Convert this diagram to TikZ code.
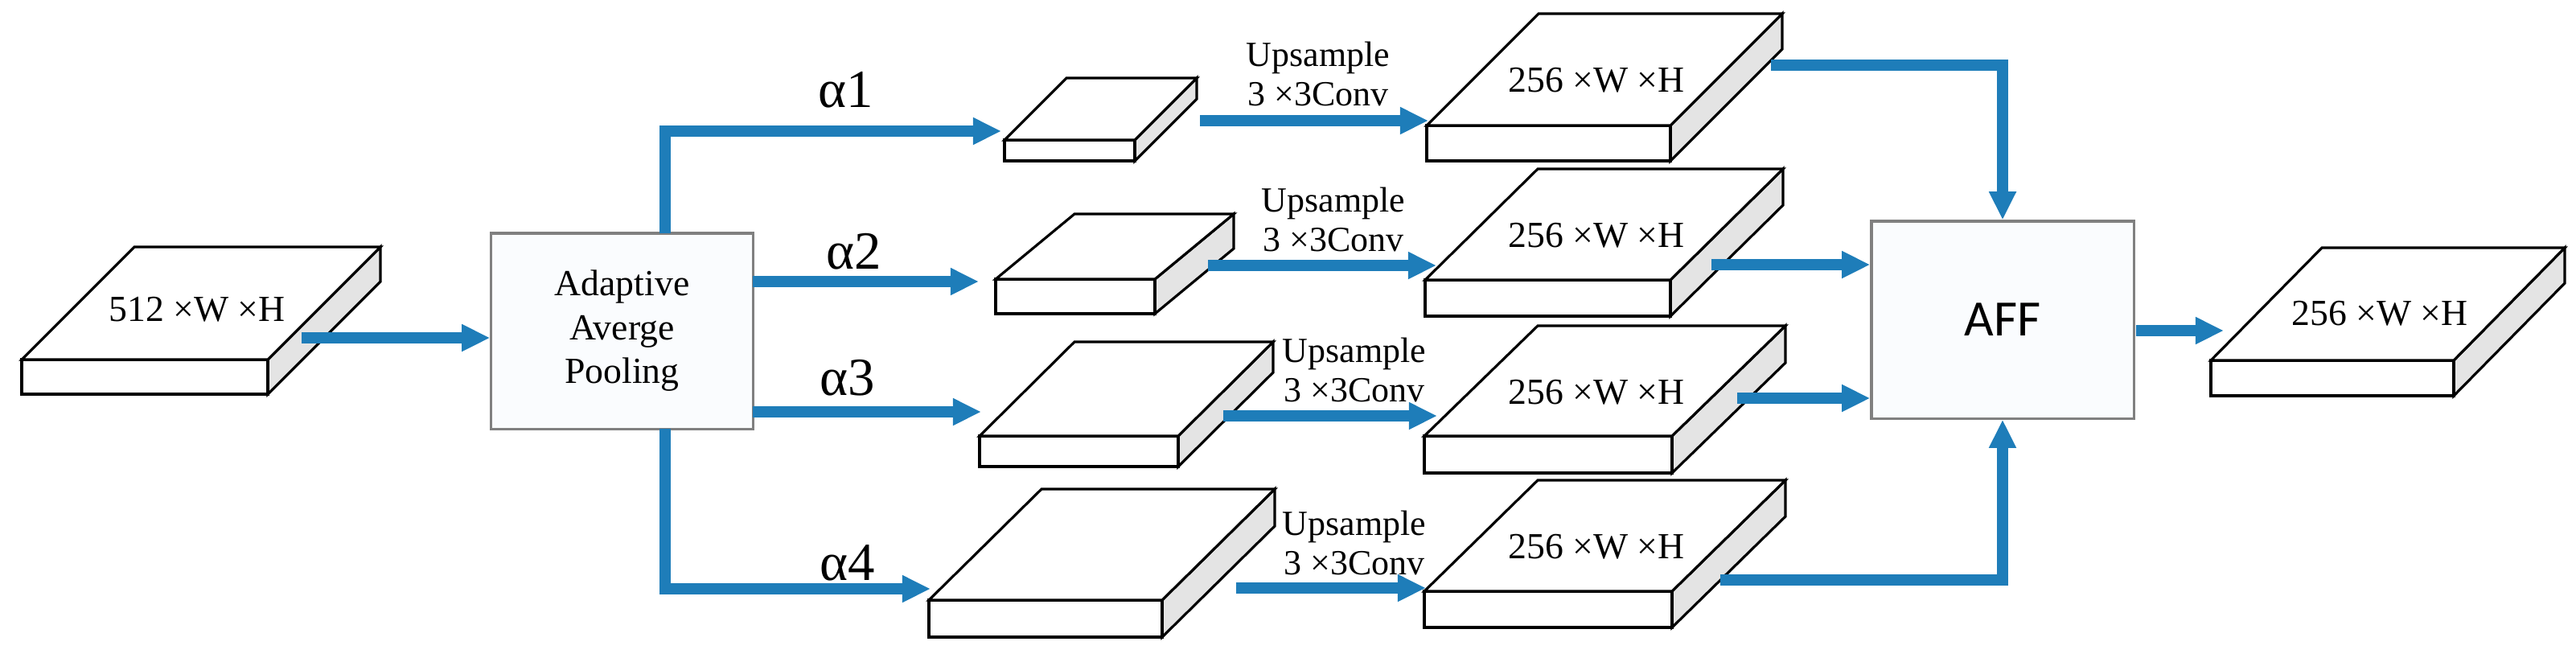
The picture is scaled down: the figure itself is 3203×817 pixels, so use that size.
\documentclass[tikz,border=0pt]{standalone}
\usepackage{fontspec}
\setmainfont{Liberation Serif}
\newfontfamily\afffont{Carlito}
\usetikzlibrary{arrows.meta}
\definecolor{arrblue}{RGB}{30,125,185}
\definecolor{sidegray}{RGB}{228,228,228}
\definecolor{boxfill}{RGB}{250,252,254}
\tikzset{
  arr/.style={draw=arrblue,line width=4pt,-{Triangle[length=10pt,width=9pt]}},
  slabface/.style={fill=white,draw=black,line width=0.9pt,line join=miter},
  slabside/.style={fill=sidegray,draw=black,line width=0.9pt},
  box/.style={draw=gray,line width=0.9pt,fill=boxfill,inner sep=0pt},
  lbl/.style={font=\fontsize{12.5}{14}\selectfont,align=center,inner sep=0pt},
  dimtxt/.style={font=\fontsize{13}{15}\selectfont,inner sep=0pt},
  alab/.style={font=\fontsize{19}{21}\selectfont,inner sep=0pt}
}
% #1 name, #2 front-left x, #3 front-right x, #4 back-left x, #5 top y, #6 front-top y, #7 bottom y
\newcommand\myslab[7]{%
  \pgfmathsetmacro\slbr{#4+#3-#2}%
  \pgfmathsetmacro\slrb{#5+#7-#6}%
  \filldraw[slabside] (#3,#6) -- (\slbr,#5) -- (\slbr,\slrb) -- (#3,#7) -- cycle;
  \filldraw[slabface] (#2,#6) rectangle (#3,#7);
  \filldraw[slabface] (#2,#6) -- (#4,#5) -- (\slbr,#5) -- (#3,#6) -- cycle;
}
\begin{document}
\begin{tikzpicture}[x=0.01cm,y=-0.01cm]
\useasboundingbox (0,0) rectangle (3203,817);
% input slab
\myslab{in}{27}{333}{167}{307}{447}{490}
\node[dimtxt] (intxt) at (245,385) {512 ×W ×H};
% pooling box
\node[box,minimum width=3.25cm,minimum height=2.43cm] (pool) at (773.5,411.5) {};
\node[lbl,font=\fontsize{13}{15.5}\selectfont] (pooltxt) at (773.5,411.5) {Adaptive\\Averge\\Pooling};
% small slabs
\myslab{s1}{1249}{1411}{1326}{97}{174}{200}
\myslab{s2}{1238}{1436}{1336}{266}{347}{390}
\myslab{s3}{1218}{1465}{1336}{425}{542}{580}
\myslab{s4}{1155}{1445}{1295}{608}{746}{792}
% 256 slabs
\myslab{b1}{1774}{2077}{1913}{17}{156}{200}
\myslab{b2}{1772}{2077}{1912}{210}{348}{393}
\myslab{b3}{1771}{2079}{1912}{405}{542}{588}
\myslab{b4}{1771}{2079}{1912}{597}{735}{780}
\node[dimtxt] (b1t) at (1985,100) {256 ×W ×H};
\node[dimtxt] (b2t) at (1985,293) {256 ×W ×H};
\node[dimtxt] (b3t) at (1985,488) {256 ×W ×H};
\node[dimtxt] (b4t) at (1985,680) {256 ×W ×H};
% output slab
\myslab{out}{2749}{3051}{2887}{308}{448}{492}
\node[dimtxt] (outt) at (2959,390) {256 ×W ×H};
% AFF box
\node[box,minimum width=3.26cm,minimum height=2.45cm] (aff) at (2490,397.5) {};
\node[font=\afffont\fontsize{18}{20}\selectfont] (afft) at (2490,397.5) {AFF};
% labels
\node[alab] (l1) at (1052,112) {α1};
\node[alab] (l2) at (1062,313) {α2};
\node[alab] (l3) at (1054,470) {α3};
\node[alab] (l4) at (1054,700) {α4};
\node[lbl] (u1) at (1639,92) {Upsample\\3 ×3Conv};
\node[lbl] (u2) at (1658,273) {Upsample\\3 ×3Conv};
\node[lbl] (u3) at (1684,460) {Upsample\\3 ×3Conv};
\node[lbl] (u4) at (1684,675) {Upsample\\3 ×3Conv};
% coordinates
\coordinate (inA) at (375,420);
\coordinate (a1s) at (827,290);
\coordinate (a1e) at (1245,163);
\coordinate (a2s) at (936,350);
\coordinate (a2e) at (1217,350);
\coordinate (a3s) at (936,512);
\coordinate (a3e) at (1220,512);
\coordinate (a4s) at (827,533);
\coordinate (a4e) at (1157,732);
\coordinate (c1s) at (1492,150); \coordinate (c1e) at (1776,150);
\coordinate (c2s) at (1502,330); \coordinate (c2e) at (1786,330);
\coordinate (c3s) at (1521,517); \coordinate (c3e) at (1787,517);
\coordinate (c4s) at (1537,731); \coordinate (c4e) at (1773,731);
\coordinate (f1s) at (2202,81);
\coordinate (f2s) at (2128,329);
\coordinate (f3s) at (2160,495);
\coordinate (f4s) at (2139,721);
\coordinate (os) at (2656,411); \coordinate (oe) at (2765,411);
% arrows
\draw[arr] (inA) -- (pool.west |- inA);
\draw[arr] (a1s) |- (a1e);
\draw[arr] (a2s) -- (a2e);
\draw[arr] (a3s) -- (a3e);
\draw[arr] (a4s) |- (a4e);
\draw[arr] (c1s) -- (c1e);
\draw[arr] (c2s) -- (c2e);
\draw[arr] (c3s) -- (c3e);
\draw[arr] (c4s) -- (c4e);
\draw[arr] (f1s) -| (aff.north);
\draw[arr] (f2s) -- (aff.west |- f2s);
\draw[arr] (f3s) -- (aff.west |- f3s);
\draw[arr] (f4s) -| (aff.south);
\draw[arr] (os) -- (oe);
\end{tikzpicture}
\end{document}
